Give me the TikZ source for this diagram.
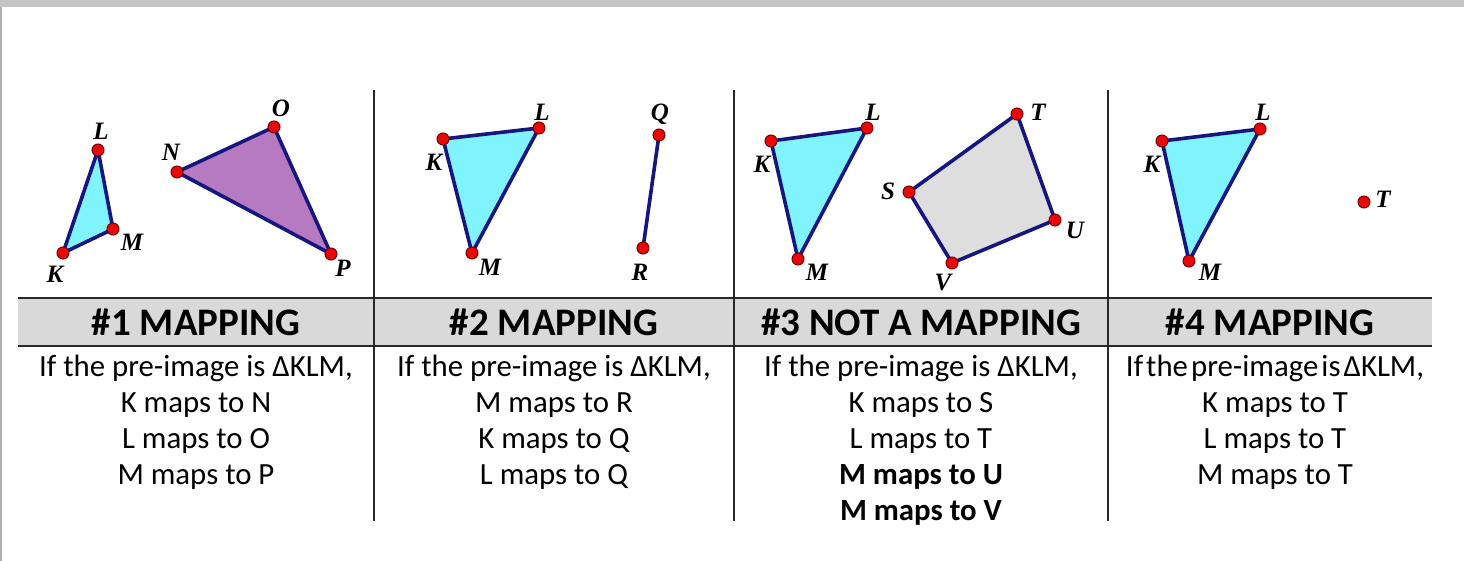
\documentclass[tikz,border=0pt]{standalone}
\usepackage{fontspec}
\setmainfont{Carlito}
\newfontfamily\ptfont{Liberation Serif}
\usetikzlibrary{positioning,backgrounds}

\definecolor{edgeblue}{RGB}{22,22,128}
\definecolor{cyanfill}{RGB}{128,244,252}
\definecolor{purplefill}{RGB}{182,122,192}
\definecolor{quadfill}{RGB}{222,222,222}
\definecolor{dotred}{RGB}{232,8,8}
\definecolor{dotrim}{RGB}{120,0,0}
\definecolor{headgray}{RGB}{217,217,217}
\definecolor{rulegray}{RGB}{40,40,40}
\definecolor{framegray}{RGB}{196,196,196}

\begin{document}
\begin{tikzpicture}[x=0.5pt, y=-0.5pt,
  dot/.style={circle, draw=dotrim, fill=dotred, line width=0.5pt,
              inner sep=0pt, minimum size=6pt},
  lbl/.style={font=\ptfont\bfseries\itshape\fontsize{12.5}{13}\selectfont,
              inner sep=0pt},
  edge/.style={draw=edgeblue, line width=1.8pt, line join=round},
  head/.style={font=\bfseries\fontsize{19.5}{22}\selectfont, inner sep=0pt},
  body/.style={font=\fontsize{15.4}{18}\selectfont, align=center,
               anchor=north, inner sep=0pt},
  rule/.style={draw=rulegray, line width=1.4pt},
]

\useasboundingbox (0,0) rectangle (1464,561);

%% ---- Frame ----
\fill[framegray] (0,0) rectangle (1464,7);
\fill[framegray!90!black] (0,7) rectangle (1.5,561);

%% ---- Table ----
\fill[headgray] (18,298) rectangle (1432,346);
\draw[rule] (18,298) -- (1432,298);
\draw[rule] (18,346) -- (1432,346);
\draw[rule, line width=1pt] (374,90) -- (374,521);
\draw[rule, line width=1pt] (734,90) -- (734,521);
\draw[rule, line width=1pt] (1108,90) -- (1108,521);

%% ---- #1 ----
\node[dot] (K1) at (63,253) {};
\node[dot] (L1) at (98,150) {};
\node[dot] (M1) at (113,229) {};
\node[dot] (N1) at (177,172) {};
\node[dot] (O1) at (274,127) {};
\node[dot] (P1) at (331,254) {};
\begin{scope}[on background layer]
  \draw[edge, fill=cyanfill] (K1.center) -- (L1.center) -- (M1.center) -- cycle;
  \draw[edge, fill=purplefill] (N1.center) -- (O1.center) -- (P1.center) -- cycle;
\end{scope}
\node[lbl] (tK1) at (55,274) {K};
\node[lbl] (tL1) at (101,131) {L};
\node[lbl] (tM1) at (132,242) {M};
\node[lbl] (tN1) at (171,152) {N};
\node[lbl] (tO1) at (281,108) {O};
\node[lbl] (tP1) at (343,268) {P};

%% ---- #2 ----
\node[dot] (K2) at (443,139) {};
\node[dot] (L2) at (539,128) {};
\node[dot] (M2) at (472,253) {};
\node[dot] (Q2) at (659,135) {};
\node[dot] (R2) at (643,248) {};
\begin{scope}[on background layer]
  \draw[edge, fill=cyanfill] (K2.center) -- (L2.center) -- (M2.center) -- cycle;
  \draw[edge] (Q2.center) -- (R2.center);
\end{scope}
\node[lbl] (tK2) at (434,162) {K};
\node[lbl] (tL2) at (542,112) {L};
\node[lbl] (tM2) at (490,267) {M};
\node[lbl] (tQ2) at (660,114) {Q};
\node[lbl] (tR2) at (640,272) {R};

%% ---- #3 ----
\node[dot] (K3) at (771,141) {};
\node[dot] (L3) at (867,128) {};
\node[dot] (M3) at (798,259) {};
\node[dot] (S3) at (909,192) {};
\node[dot] (T3) at (1017,114) {};
\node[dot] (U3) at (1055,220) {};
\node[dot] (V3) at (952,263) {};
\begin{scope}[on background layer]
  \draw[edge, fill=cyanfill] (K3.center) -- (L3.center) -- (M3.center) -- cycle;
  \draw[edge, fill=quadfill] (S3.center) -- (T3.center) -- (U3.center)
    -- (V3.center) -- cycle;
\end{scope}
\node[lbl] (tK3) at (762,164) {K};
\node[lbl] (tL3) at (873,112) {L};
\node[lbl] (tM3) at (817,272) {M};
\node[lbl] (tS3) at (888,191) {S};
\node[lbl] (tT3) at (1038,112) {T};
\node[lbl] (tU3) at (1075,230) {U};
\node[lbl] (tV3) at (943,283) {V};

%% ---- #4 ----
\node[dot] (K4) at (1162,141) {};
\node[dot] (L4) at (1260,129) {};
\node[dot] (M4) at (1189,261) {};
\node[dot] (T4) at (1364,202) {};
\begin{scope}[on background layer]
  \draw[edge, fill=cyanfill] (K4.center) -- (L4.center) -- (M4.center) -- cycle;
\end{scope}
\node[lbl] (tK4) at (1152,164) {K};
\node[lbl] (tL4) at (1263,112) {L};
\node[lbl] (tM4) at (1210,272) {M};
\node[lbl] (tT4) at (1383,199) {T};

%% ---- Headers ----
\node[head] (h1) at (196,322) {\#1 MAPPING};
\node[head] (h2) at (554,322) {\#2 MAPPING};
\node[head] (h3) at (921,322) {\#3 NOT A MAPPING};
\node[head] (h4) at (1270,322) {\#4 MAPPING};

%% ---- Descriptions ----
\node[body] (d1) at (196,355) {If the pre-image is ΔKLM,\\K maps to N\\L maps to O\\M maps to P};
\node[body] (d2) at (554,355) {If the pre-image is ΔKLM,\\M maps to R\\K maps to Q\\L maps to Q};
\node[body] (d3) at (921,355) {If the pre-image is ΔKLM,\\K maps to S\\L maps to T\\
  \textbf{M maps to U}\\\textbf{M maps to V}};
\node[body] (d4) at (1275,355) {{\spaceskip=0.1em If the pre-image is ΔKLM,}\\K maps to T\\L maps to T\\M maps to T};

\end{tikzpicture}
\end{document}
